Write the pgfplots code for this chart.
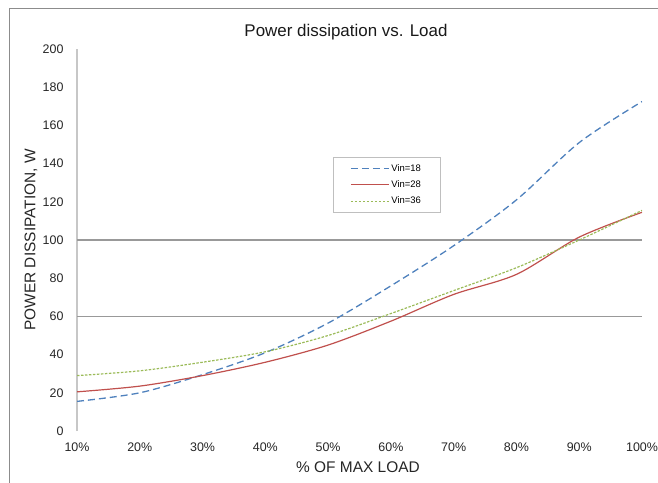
\documentclass[border=0pt]{standalone}
\usepackage{fontspec}
\setmainfont{Liberation Sans}
\usepackage{pgfplots}
\pgfplotsset{compat=1.18}

\definecolor{vblue}{HTML}{4F81BD}
\definecolor{vred}{HTML}{C0504D}
\definecolor{vgreen}{HTML}{9BBB59}

\begin{document}
\begin{tikzpicture}
\useasboundingbox (0,0) rectangle (658bp,483bp);
% chart frame (only top and left edges show)
\draw[black!45, line width=0.8bp] (9bp,0bp) -- (9bp,475bp) -- (658bp,475bp);

\begin{axis}[
  at={(77bp,52bp)}, anchor=south west,
  scale only axis, width=565bp, height=382bp,
  xmin=10, xmax=100, ymin=0, ymax=200,
  xtick={10,20,...,100}, ytick={0,20,...,200},
  xticklabel={\pgfmathprintnumber{\tick}\%},
  /pgf/number format/assume math mode=true,
  tick label style={font=\fontsize{12.5}{14}\selectfont, text=black!85},
  xticklabel style={yshift=-8bp},
  yticklabel style={xshift=-10bp},
  major tick length=0pt,
  axis x line=bottom, axis y line=left,
  axis line style={-},
  x axis line style={draw=none},
  y axis line style={draw=black!22, line width=1.5bp},
  extra y ticks={60,100}, extra y tick labels={,},
  extra y tick style={grid=major, major grid style={draw=black!40, line width=1.2bp}},
  legend style={at={(0.453,0.717)}, anchor=north west,
    draw=black!25, fill=white, inner xsep=17bp, inner ysep=5bp,
    row sep=4bp, font=\fontsize{9.5}{10}\selectfont},
  legend cell align=left,
  legend image code/.code={\draw[#1] (0bp,0bp) -- (38bp,0bp);},
]
\addplot[vblue, line width=1.3bp, dash pattern=on 7bp off 4bp, smooth] coordinates {
  (10,15.5) (20,20) (30,29.5) (40,41) (50,56.5) (60,76) (70,97) (80,121) (90,151) (100,172.5)
};
\addlegendentry{Vin=18}
\addplot[vred, line width=1.2bp, smooth] coordinates {
  (10,20.5) (20,23.5) (30,29) (40,36) (50,45) (60,57.5) (70,71.5) (80,82) (90,101.5) (100,114.5)
};
\addlegendentry{Vin=28}
\addplot[vgreen, line width=1.2bp, dash pattern=on 2.5bp off 1.5bp, smooth] coordinates {
  (10,29) (20,31.5) (30,36) (40,41.5) (50,50) (60,61.5) (70,73.5) (80,85.5) (90,100) (100,115.5)
};
\addlegendentry{Vin=36}
\end{axis}

\node[font=\fontsize{17}{20}\selectfont, text=black!90] at (346bp,451bp) {Power dissipation vs. Load};
\node[font=\fontsize{15.5}{18}\selectfont, text=black!85, rotate=90] at (31bp,243bp) {POWER DISSIPATION, W};
\node[font=\fontsize{15.5}{18}\selectfont, text=black!85] at (358bp,16bp) {\% OF MAX LOAD};
\end{tikzpicture}
\end{document}
